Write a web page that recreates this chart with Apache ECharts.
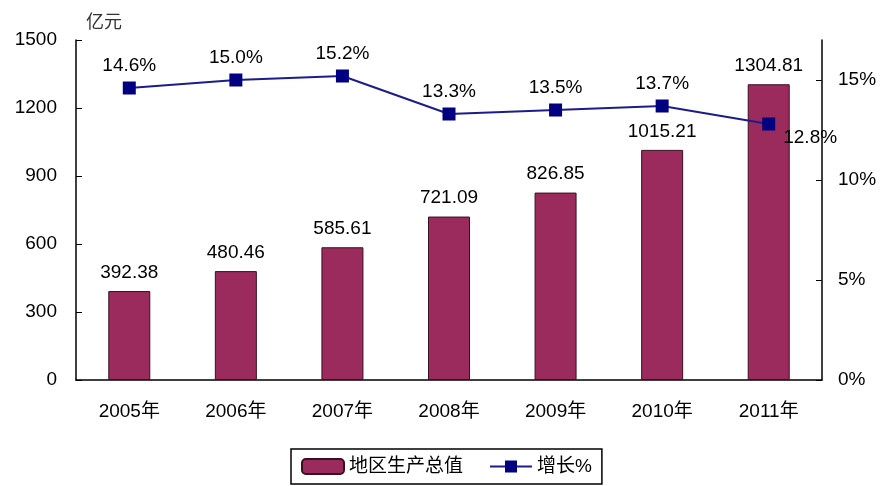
<!DOCTYPE html>
<html>
<head>
<meta charset="utf-8">
<script src="https://cdn.jsdelivr.net/npm/echarts@6/dist/echarts.min.js"></script>
<style>
  html, body { margin: 0; padding: 0; background: #fff; }
  #main { width: 886px; height: 486px; }
</style>
</head>
<body>
<div id="main"></div>
<script>
  // 数据
  var years = ['2005年', '2006年', '2007年', '2008年', '2009年', '2010年', '2011年'];
  var gdp = [392.38, 480.46, 585.61, 721.09, 826.85, 1015.21, 1304.81];
  var growth = [14.6, 15.0, 15.2, 13.3, 13.5, 13.7, 12.8];
  var leftTicks = [0, 300, 600, 900, 1200, 1500];
  var rightTicks = [0, 5, 10, 15];

  var font = '"Liberation Sans", "Noto Sans CJK SC", sans-serif';

  var myChart = echarts.init(document.getElementById('main'));
  myChart.setOption({
    animation: false,
    textStyle: { fontFamily: font, color: '#000' },
    grid: { left: 76, right: 64, top: 40, bottom: 106 },
    legend: {
      left: 291,
      top: 449,
      padding: [8, 10, 8, 10],
      itemGap: 26,
      itemWidth: 42,
      itemHeight: 15,
      borderColor: '#000',
      borderWidth: 1.5,
      textStyle: { fontSize: 19, color: '#000', fontFamily: font },
      data: ['地区生产总值', '增长%']
    },
    xAxis: {
      type: 'category',
      data: years,
      axisLine: { lineStyle: { color: '#000', width: 1.5 } },
      axisTick: { inside: true, length: 6, lineStyle: { color: '#000' } },
      axisLabel: { fontSize: 19, color: '#000', margin: 22 }
    },
    yAxis: [{
      type: 'value',
      min: 0, max: 1500, interval: 300,
      name: '亿元',
      nameGap: 8,
      nameTextStyle: { fontSize: 18, color: '#333', align: 'left', padding: [0, 0, 0, 10] },
      axisLine: { show: true, lineStyle: { color: '#000', width: 1.5 } },
      axisTick: { show: true, inside: true, length: 6, lineStyle: { color: '#000' } },
      axisLabel: {
        fontSize: 19, color: '#000', margin: 19, customValues: leftTicks,
        formatter: function (v) { return String(v); }
      },
      splitLine: { show: false }
    }, {
      type: 'value',
      min: 0, max: 17, interval: 5,
      position: 'right',
      axisLine: { show: true, lineStyle: { color: '#000', width: 1.5 } },
      axisTick: { show: true, inside: true, length: 6, lineStyle: { color: '#000' }, customValues: rightTicks },
      axisLabel: { fontSize: 19, color: '#000', margin: 16, formatter: '{value}%', customValues: rightTicks },
      splitLine: { show: false }
    }],
    series: [{
      name: '地区生产总值',
      type: 'bar',
      data: gdp,
      barWidth: 42,
      itemStyle: { color: '#9b2b5c', borderColor: '#3a1020', borderWidth: 1 },
      label: {
        show: true, position: 'top', distance: 9,
        fontSize: 19, color: '#000', fontFamily: font
      }
    }, {
      name: '增长%',
      type: 'line',
      yAxisIndex: 1,
      data: growth.map(function (v, i) {
        var d = { value: v };
        if (i === growth.length - 1) {
          d.label = { position: 'right', offset: [2, 14] };
        }
        return d;
      }),
      symbol: 'rect',
      symbolSize: 13,
      lineStyle: { color: '#1c1c8c', width: 2 },
      itemStyle: { color: '#000080' },
      label: {
        show: true, position: 'top', distance: 6,
        fontSize: 19, color: '#000', fontFamily: font,
        formatter: function (p) { return p.value.toFixed(1) + '%'; }
      }
    }]
  });
</script>
</body>
</html>
